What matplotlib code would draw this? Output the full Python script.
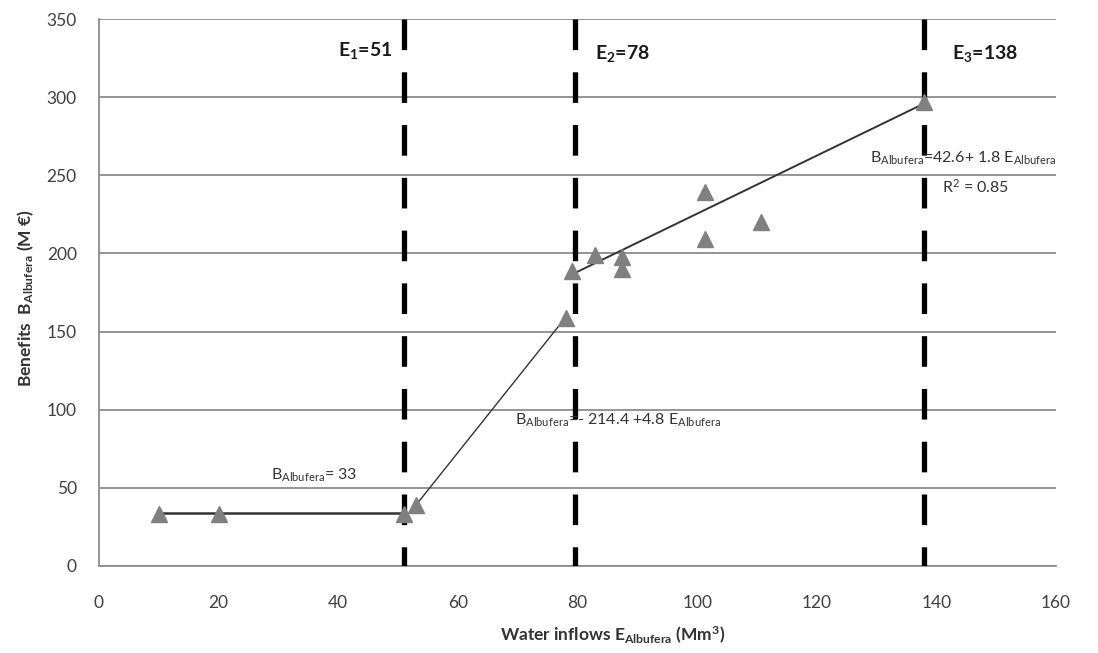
import matplotlib
matplotlib.use("Agg")
import matplotlib.pyplot as plt

plt.rcParams['font.family'] = ['Lato', 'DejaVu Sans']
plt.rcParams['mathtext.fontset'] = 'custom'
plt.rcParams['mathtext.rm'] = 'Lato'
plt.rcParams['mathtext.bf'] = 'Lato:bold'
plt.rcParams['mathtext.it'] = 'Lato:italic'

# Data
inflows = [10, 20, 51, 53, 78, 79, 83, 87.5, 87.5, 101.3, 101.3, 110.6, 138]
benefits = [33, 33, 33, 39, 159, 189, 199, 198, 190, 239, 209, 220, 297]

seg1_x = [10, 51]
seg1_y = [34, 34]
seg2_x = [53, 78]
seg2_y = [39, 159]
seg3_x = [79.3, 138]
seg3_y = [187, 296]

thresholds = [51, 79.5, 138]
threshold_labels = [r"E$_{\mathbf{1}}$=51", r"E$_{\mathbf{2}}$=78", r"E$_{\mathbf{3}}$=138"]

x_ticks = [0, 20, 40, 60, 80, 100, 120, 140, 160]
y_ticks = [0, 50, 100, 150, 200, 250, 300, 350]

fig = plt.figure(figsize=(10.98, 6.53), dpi=100)
ax = fig.add_axes([99/1098, 1-566/653, (1056-99)/1098, (566-19)/653])

ax.set_xlim(0, 160)
ax.set_ylim(0, 350)
ax.set_xticks(x_ticks)
ax.set_yticks(y_ticks)
ax.yaxis.grid(True, color='#8c8c8c', linewidth=1.3)
ax.set_axisbelow(True)
for s in ['top', 'right']:
    ax.spines[s].set_visible(False)
for s in ['left', 'bottom']:
    ax.spines[s].set_color('#8c8c8c')
    ax.spines[s].set_linewidth(1.3)
ax.tick_params(axis='both', length=0, labelsize=12.5, colors='#404040')
ax.tick_params(axis='y', pad=16)
ax.tick_params(axis='x', pad=21)

# threshold dashed lines
for t in thresholds:
    ax.plot([t, t], [350, 0], color='black', linewidth=3.8, dashes=(5.8, 4.2),
            solid_capstyle='butt', dash_capstyle='butt', zorder=3)

# trend segments
ax.plot(seg1_x, seg1_y, color='#333333', linewidth=1.8, zorder=4)
ax.plot(seg2_x, seg2_y, color='#333333', linewidth=1.0, zorder=4)
ax.plot(seg3_x, seg3_y, color='#333333', linewidth=1.4, zorder=4)

# data points
ax.plot(inflows, benefits, linestyle='none', marker='^', markersize=11,
        color='#808080', markeredgecolor='#808080', zorder=5)

# threshold labels
ax.text(44.5, 330, threshold_labels[0], fontsize=14, fontweight='bold', ha='center', va='center', color='#1a1a1a')
ax.text(83, 328, threshold_labels[1], fontsize=14, fontweight='bold', ha='left', va='center', color='#1a1a1a')
ax.text(142.6, 328, threshold_labels[2], fontsize=14, fontweight='bold', ha='left', va='center', color='#1a1a1a')

# equations
ax.text(28.8, 58, r"B$_{\mathrm{Albufera}}$= 33", fontsize=11.5, ha='left', va='center', color='#333333')
ax.text(69.6, 93, r"B$_{\mathrm{Albufera}}$=- 214.4 +4.8 E$_{\mathrm{Albufera}}$", fontsize=11.5, ha='left', va='center', color='#333333')
ax.text(128.9, 261, r"B$_{\mathrm{Albufera}}$=42.6+ 1.8 E$_{\mathrm{Albufera}}$", fontsize=11.5, ha='left', va='center', color='#333333', clip_on=False)
ax.text(140.9, 242.5, r"R$^{2}$ = 0.85", fontsize=11.5, ha='left', va='center', color='#333333')

ax.set_xlabel(r"Water inflows E$_{\mathbf{Albufera}}$ (Mm$^{\mathbf{3}}$)", fontsize=12.5, fontweight='bold', color='#333333')
ax.set_ylabel(r"Benefits  B$_{\mathbf{Albufera}}$ (M €)", fontsize=12.5, fontweight='bold', color='#333333')
ax.xaxis.set_label_coords((613-99)/957, (566-625)/547)
ax.yaxis.set_label_coords((36-99)/957, 0.49)

fig.savefig("out.png", dpi=100)
